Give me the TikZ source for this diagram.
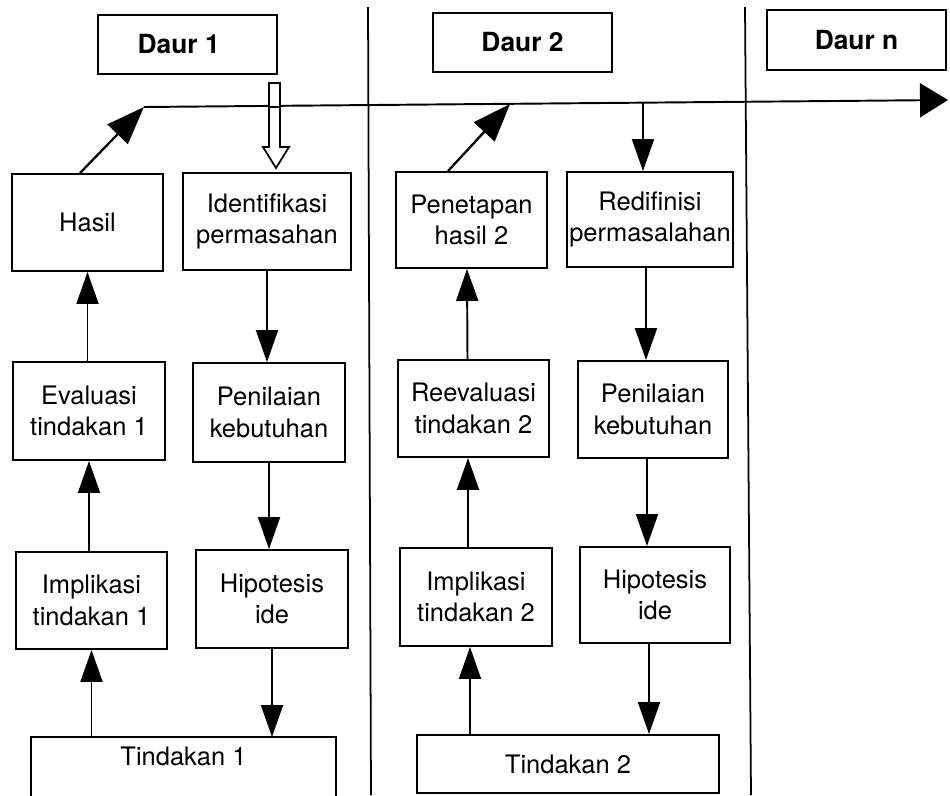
\documentclass[tikz,border=0pt]{standalone}
\usepackage{fontspec}
\setmainfont{TeX Gyre Heros}
\usetikzlibrary{arrows.meta,calc}
\begin{document}
\begin{tikzpicture}[x=0.02cm,y=-0.02cm,
  bx/.style n args={2}{draw, line width=1.1pt, inner sep=0pt, align=center,
    minimum width=#1*0.02cm, minimum height=#2*0.02cm,
    font=\fontsize{14.5}{18}\selectfont},
  hd/.style n args={2}{bx={#1}{#2}, font=\fontsize{15}{18}\selectfont\bfseries},
  arr/.style={line width=1.1pt, -{Triangle[length=0.64cm, width=0.44cm]}},
  diag/.style={line width=1.3pt, -{Triangle[length=0.76cm, width=0.56cm]}},
  rline/.style={line width=1pt}]
\useasboundingbox (0,0) rectangle (950,795);
\clip (0,0) rectangle (950,795);
% cycle separators
\draw[rline] (368,7) coordinate (s1t) -- (371,795) coordinate (s1b);
\draw[rline] (745,7) coordinate (s2t) -- (751,795) coordinate (s2b);
% headers
\node[hd={179}{59}] (d1) at (187.5,44.5) {Daur 1\hspace{10pt}};
\node[hd={179}{59}] (d2) at (522.5,42.5) {Daur 2};
\node[hd={179}{60}] (dn) at (856.5,40) {Daur n};
% time line
\coordinate (h1) at (144,107);
\coordinate (h2) at (948,100);
\coordinate (t2) at (510,104);
\coordinate (r1) at (643,103);
\draw[line width=1.1pt, -{Triangle[length=0.56cm, width=0.68cm]}] (h1) -- (h2);
% cycle 1
\node[bx={151}{97}] (hasil) at (87.5,222.5) {Hasil};
\node[bx={168}{97}] (ident) at (267,221.5) {Identifikasi\\permasahan};
\node[bx={152}{98}] (eval1) at (89,411) {Evaluasi\\tindakan 1};
\node[bx={152}{99}] (pen1) at (269,412.5) {Penilaian\\kebutuhan};
\node[bx={151}{97}] (impl1) at (91.5,600.5) {Implikasi\\tindakan 1};
\node[bx={152}{98}] (hip1) at (272,599) {Hipotesis\\ide};
\node[bx={303}{36}, draw=none] (tin1) at (183.5,756) {Tindakan 1};
\draw[line width=1.1pt] ($(tin1.north west)+(0,60)$) -- (tin1.north west) -- (tin1.north east) -- ($(tin1.north east)+(0,60)$);
% hollow arrow from Daur 1
\draw[line width=1pt, fill=white] (269,83) -- (280,83) -- (280,147) -- (289,147) -- (276,168) -- (263,147) -- (269,147) -- cycle;
\draw[line width=1.1pt] (269,107) -- (280,107);
% cycle 2
\node[bx={151}{96}] (pen2) at (471.5,220) {Penetapan\\hasil 2};
\node[bx={166}{95}] (red) at (650,219.5) {Redifinisi\\permasalahan};
\node[bx={151}{97}] (reev) at (473.5,408.5) {Reevaluasi\\tindakan 2};
\node[bx={150}{97}] (pen2b) at (653,409.5) {Penilaian\\kebutuhan};
\node[bx={152}{98}] (impl2) at (476,597) {Implikasi\\tindakan 2};
\node[bx={150}{96}] (hip2) at (655,595) {Hipotesis\\ide};
\node[bx={302}{58}] (tin2) at (568,764) {Tindakan 2};
% connectors cycle 1
\draw[diag] ($(hasil.north)+(-7.5,0)$) -- (h1);
\draw[arr] (hasil.south |- eval1.north) -- (hasil.south);
\draw[arr] (eval1.south |- impl1.north) -- (eval1.south);
\draw[arr] (impl1.south |- tin1.north) -- (impl1.south);
\draw[arr] (ident.south) -- (ident.south |- pen1.north);
\draw[arr] (pen1.south) -- (pen1.south |- hip1.north);
\draw[arr] (hip1.south) -- (hip1.south |- tin1.north);
% connectors cycle 2
\draw[diag] ($(pen2.north)+(-23.5,0)$) -- (t2);
\draw[arr] (r1) -- (r1 |- red.north);
\draw[arr] ($(reev.north)+(-6,0)$) -- ($(pen2.south)+(-4.5,0)$);
\draw[arr] ($(impl2.north)+(-8,0)$) -- ($(reev.south)+(-5.5,0)$);
\draw[arr] ($(tin2.north)+(-98,0)$) -- ($(impl2.south)+(-6,0)$);
\draw[arr] ($(red.south)+(-4,0)$) -- ($(pen2b.north)+(-7,0)$);
\draw[arr] ($(pen2b.south)+(-6,0)$) -- ($(hip2.north)+(-8,0)$);
\draw[arr] ($(hip2.south)+(-6,0)$) -- ($(tin2.north)+(81,0)$);
\end{tikzpicture}
\end{document}
